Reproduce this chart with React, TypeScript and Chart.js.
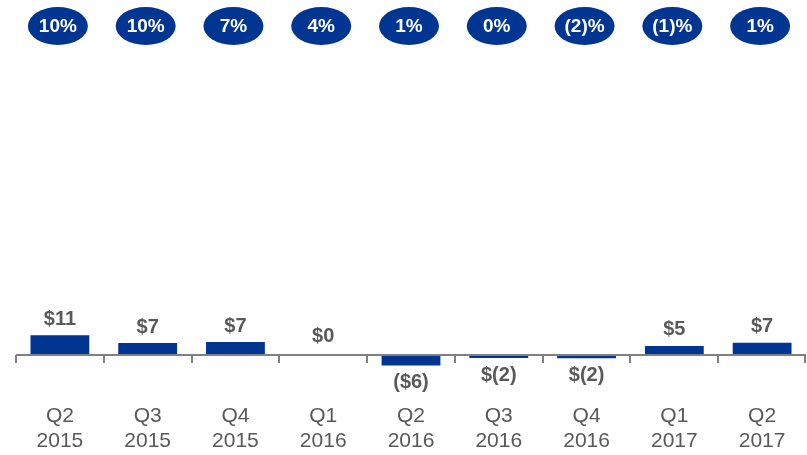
import React, { useEffect, useRef } from "react";
import { Chart, registerables } from "chart.js";

Chart.register(...registerables);

const categories: string[][] = [
  ["Q2", "2015"],
  ["Q3", "2015"],
  ["Q4", "2015"],
  ["Q1", "2016"],
  ["Q2", "2016"],
  ["Q3", "2016"],
  ["Q4", "2016"],
  ["Q1", "2017"],
  ["Q2", "2017"],
];
const values: number[] = [11, 6.7, 7.2, 0, -5.8, -1.6, -1.8, 5.1, 6.8];
const valueLabels: string[] = ["$11", "$7", "$7", "$0", "($6)", "$(2)", "$(2)", "$5", "$7"];
const growthLabels: string[] = ["10%", "10%", "7%", "4%", "1%", "0%", "(2)%", "(1)%", "1%"];

const BLUE = "#003591";
const GRAY = "#595959";
const FONT = "'Liberation Sans', Arial, sans-serif";

const overlayPlugin = {
  id: "overlay",
  afterDatasetsDraw(chart: any) {
    const { ctx, chartArea, scales } = chart;
    const x = scales.x;
    const y = scales.y;
    const y0 = y.getPixelForValue(0);
    const n = categories.length;
    const step = (chartArea.right - chartArea.left) / n;
    ctx.save();
    // zero axis line
    ctx.strokeStyle = "#808080";
    ctx.lineWidth = 2;
    ctx.beginPath();
    ctx.moveTo(chartArea.left, y0);
    ctx.lineTo(chartArea.right, y0);
    ctx.stroke();
    // tick marks at category boundaries
    for (let i = 0; i <= n; i++) {
      const px = Math.round(chartArea.left + i * step) + (i === n ? -1 : 0);
      ctx.beginPath();
      ctx.moveTo(px, y0);
      ctx.lineTo(px, y0 + 8);
      ctx.stroke();
    }
    // value labels
    ctx.fillStyle = GRAY;
    ctx.font = `bold 20px ${FONT}`;
    ctx.textAlign = "center";
    ctx.textBaseline = "middle";
    values.forEach((v, i) => {
      const cx = x.getPixelForValue(i);
      const py = y.getPixelForValue(v);
      const ty = v > 0 ? py - 16 : v < 0 ? py + 17 : py - 19;
      ctx.fillText(valueLabels[i], cx, ty);
    });
    // growth ellipses
    growthLabels.forEach((t, i) => {
      const cx = x.getPixelForValue(i) - 2;
      const cy = 26;
      ctx.fillStyle = BLUE;
      ctx.beginPath();
      ctx.ellipse(cx, cy, 30, 19, 0, 0, Math.PI * 2);
      ctx.fill();
      ctx.fillStyle = "#ffffff";
      ctx.font = `bold 19px ${FONT}`;
      ctx.fillText(t, cx, cy + 1);
    });
    ctx.restore();
  },
};

export default function App() {
  const canvasRef = useRef<HTMLCanvasElement | null>(null);
  useEffect(() => {
    if (!canvasRef.current) return;
    const chart = new Chart(canvasRef.current, {
      type: "bar",
      data: {
        labels: categories,
        datasets: [
          {
            data: values,
            backgroundColor: BLUE,
            borderWidth: 0,
            categoryPercentage: 0.67,
            barPercentage: 1,
          },
        ],
      },
      options: {
        animation: false,
        responsive: false,
        maintainAspectRatio: false,
        layout: { padding: { top: 60, left: 16, right: 1, bottom: 1 } },
        plugins: { legend: { display: false }, tooltip: { enabled: false } },
        scales: {
          x: {
            grid: { display: false, drawTicks: false },
            border: { display: false },
            ticks: {
              color: GRAY,
              font: { family: FONT, size: 21, lineHeight: "25px" },
              padding: 0,
              maxRotation: 0,
              autoSkip: false,
            },
          },
          y: {
            display: false,
            min: -27,
            max: 163,
          },
        },
      },
      plugins: [overlayPlugin],
    });
    return () => chart.destroy();
  }, []);
  return (
    <div style={{ position: "fixed", left: 0, top: 0, width: 807, height: 455, background: "#fff" }}>
      <canvas ref={canvasRef} width={807} height={455} />
    </div>
  );
}
